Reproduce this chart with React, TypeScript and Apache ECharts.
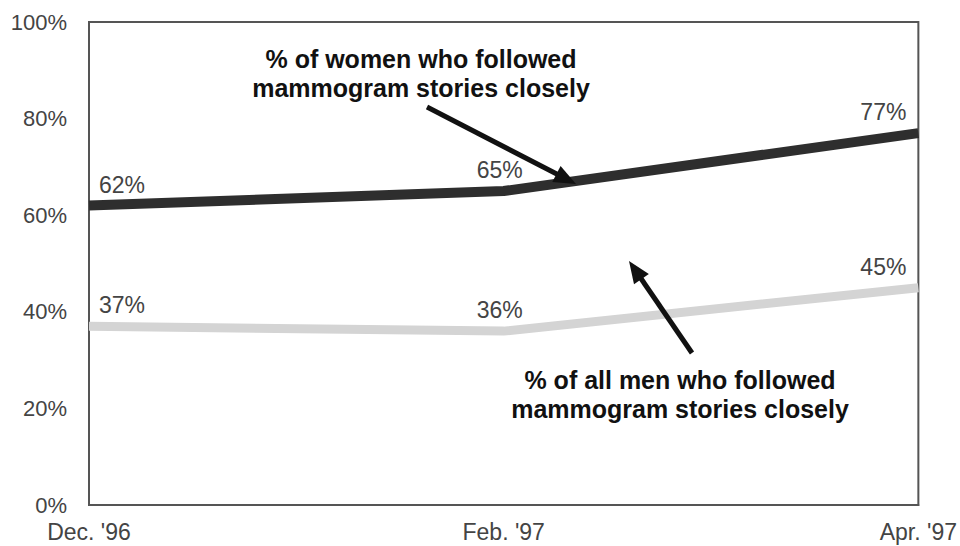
import React, { useEffect, useRef } from "react";
import * as echarts from "echarts";

const categories = ["Dec. '96", "Feb. '97", "Apr. '97"];
const women = [62, 65, 77];
const men = [37, 36, 45];
const yTicks = [0, 20, 40, 60, 80, 100];
const womenNote = ["% of women who followed", "mammogram stories closely"];
const menNote = ["% of all men who followed", "mammogram stories closely"];

const labelOffsets = [
  { offset: [33, 0] },
  { offset: [-4, 0] },
  { offset: [-35, 0] },
];

function arrow(x1: number, y1: number, x2: number, y2: number) {
  const dx = x2 - x1;
  const dy = y2 - y1;
  const len = Math.sqrt(dx * dx + dy * dy);
  const ux = dx / len;
  const uy = dy / len;
  const hl = 22;
  const hw = 9;
  const bx = x2 - ux * hl;
  const by = y2 - uy * hl;
  const nx = -uy;
  const ny = ux;
  return [
    {
      type: "line",
      shape: { x1, y1, x2: bx + ux * 2, y2: by + uy * 2 },
      style: { stroke: "#111", lineWidth: 5 },
      z: 100,
    },
    {
      type: "polygon",
      shape: {
        points: [
          [x2, y2],
          [bx + nx * hw, by + ny * hw],
          [bx - nx * hw, by - ny * hw],
        ],
      },
      style: { fill: "#111" },
      z: 100,
    },
  ];
}

export default function App() {
  const ref = useRef<HTMLDivElement>(null);
  useEffect(() => {
    if (!ref.current) return;
    const chart = echarts.init(ref.current, null, { renderer: "svg" });
    const font = "'Liberation Sans', Arial, sans-serif";
    const mkData = (vals: number[]) =>
      vals.map((v, i) => ({ value: v, label: labelOffsets[i] }));
    chart.setOption({
      animation: false,
      backgroundColor: "#ffffff",
      grid: {
        left: 89,
        right: 40,
        top: 22,
        bottom: 41,
        show: true,
        borderColor: "#555",
        borderWidth: 2,
      },
      xAxis: {
        type: "category",
        data: categories,
        boundaryGap: false,
        axisLine: { lineStyle: { color: "#555", width: 2 } },
        axisTick: { show: false },
        axisLabel: {
          color: "#444",
          fontSize: 23,
          fontFamily: font,
          margin: 15,
        },
        splitLine: { show: false },
      },
      yAxis: {
        type: "value",
        min: yTicks[0],
        max: yTicks[yTicks.length - 1],
        interval: 20,
        axisLine: { show: true, lineStyle: { color: "#555", width: 2 } },
        axisTick: { show: false },
        axisLabel: {
          color: "#444",
          fontSize: 22,
          fontFamily: font,
          margin: 22,
          formatter: "{value}%",
        },
        splitLine: { show: false },
      },
      series: [
        {
          name: "Men",
          type: "line",
          data: mkData(men),
          symbol: "circle",
          symbolSize: 1,
          itemStyle: { color: "rgba(0,0,0,0)" },
          lineStyle: { color: "#d4d4d4", width: 9 },
          label: {
            show: true,
            position: "top",
            distance: 9,
            formatter: "{c}%",
            color: "#444",
            fontSize: 23,
            fontFamily: font,
          },
        },
        {
          name: "Women",
          type: "line",
          data: mkData(women),
          symbol: "circle",
          symbolSize: 1,
          itemStyle: { color: "rgba(0,0,0,0)" },
          lineStyle: { color: "#2e2e2e", width: 10 },
          label: {
            show: true,
            position: "top",
            distance: 9,
            formatter: "{c}%",
            color: "#444",
            fontSize: 23,
            fontFamily: font,
          },
        },
      ],
      graphic: [
        {
          type: "text",
          x: 421,
          y: 44,
          style: {
            text: womenNote.join("\n"),
            fill: "#111",
            font: `bold 25px ${font}`,
            align: "center",
            lineHeight: 29,
          },
          z: 100,
        },
        {
          type: "text",
          x: 680,
          y: 365,
          style: {
            text: menNote.join("\n"),
            fill: "#111",
            font: `bold 25px ${font}`,
            align: "center",
            lineHeight: 29,
          },
          z: 100,
        },
        ...arrow(427, 107, 576, 184),
        ...arrow(692, 353, 629, 261),
      ],
    });
    return () => chart.dispose();
  }, []);
  return (
    <div
      ref={ref}
      style={{ position: "fixed", left: 0, top: 0, width: 960, height: 546 }}
    />
  );
}
